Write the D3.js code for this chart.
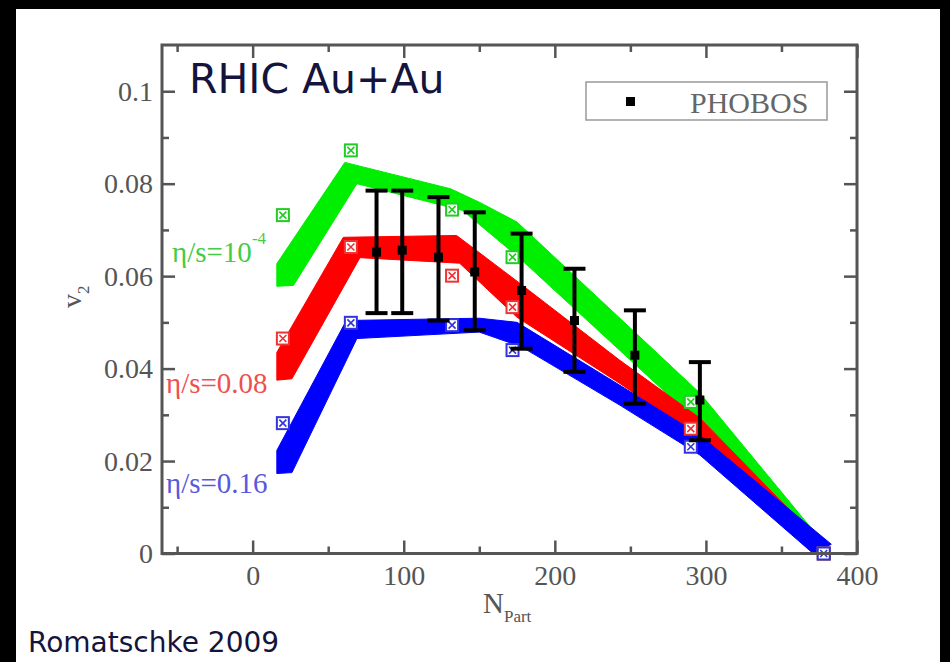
<!DOCTYPE html>
<html>
<head>
<meta charset="utf-8">
<script src="https://cdn.jsdelivr.net/npm/d3@7"></script>
<style>
  html, body { margin: 0; padding: 0; background: #000; }
  svg { display: block; }
</style>
</head>
<body>
<div id="chart"></div>
<script>
// chart size
const width = 950,
      height = 662;

// ---- data ----
// hydro bands: upper and lower edge as [Npart, v2]
const greenUpper = [[16, 0.0627], [61, 0.0846], [131, 0.0789], [150, 0.0760], [175, 0.0717], [296, 0.0347], [381, 0.001]];
const greenLower = [[16, 0.0578], [27, 0.0580], [69, 0.0800], [139, 0.0742], [177, 0.0638], [296, 0.0280], [378, 0.0]];
const redUpper   = [[16, 0.0435], [60, 0.0684], [135, 0.0688], [175, 0.0589], [243, 0.0418], [296, 0.0293], [381, 0.0008]];
const redLower   = [[16, 0.0375], [26, 0.0378], [71, 0.0640], [137, 0.0628], [175, 0.0511], [243, 0.0368], [296, 0.0250], [377, 0.0]];
const blueUpper  = [[16, 0.0223], [62, 0.0504], [150, 0.0509], [175, 0.0500], [243, 0.0364], [296, 0.0256], [383, 0.002]];
const blueLower  = [[16, 0.0173], [26, 0.0175], [69, 0.0465], [150, 0.0479], [178, 0.0447], [243, 0.0321], [296, 0.0213], [371, 0.0]];

// crossed-square markers on the bands
const markerN   = [20, 65, 132, 172, 290, 378];
const greenPts  = [0.0732, 0.0872, 0.0744, 0.0641, 0.0328, 0.0];
const redPts    = [0.0465, 0.0663, 0.0601, 0.0533, 0.0270, 0.0];
const bluePts   = [0.0282, 0.0499, 0.0494, 0.0440, 0.0231, 0.0];

// PHOBOS data with error bars
const phobosN  = [82, 99, 123, 147, 178, 213, 253, 296];
const phobosV  = [0.0652, 0.0656, 0.0641, 0.0609, 0.0569, 0.0504, 0.0429, 0.0332];
const phobosLo = [0.0520, 0.0520, 0.0504, 0.0483, 0.0443, 0.0393, 0.0324, 0.0245];
const phobosHi = [0.0785, 0.0785, 0.0771, 0.0738, 0.0692, 0.0616, 0.0526, 0.0414];

// ticks
const xMajor = [0, 100, 200, 300, 400];
const xMinor = [-50, 50, 150, 250, 350];
const yMajor = [0, 0.02, 0.04, 0.06, 0.08, 0.1];
const yMinor = [0.01, 0.03, 0.05, 0.07, 0.09];

// ---- layout ----
const pLeft = 162, pRight = 857, pTop = 45, pBottom = 553.5;
const serif = "'Liberation Serif', 'Times New Roman', serif";
const sans = "'DejaVu Sans', sans-serif";

const svg = d3.select("#chart").append("svg")
    .attr("width", width)
    .attr("height", height);

// white page on the black background
svg.append("rect")
    .attr("x", 16).attr("y", 9)
    .attr("width", 924).attr("height", height - 9)
    .style("fill", "#fff");

const x = d3.scaleLinear().domain([-60, 400]).range([pLeft, pRight]);
const y = d3.scaleLinear().domain([0, 0.11]).range([pBottom, pTop]);

// bands
const line = d3.line().x(d => x(d[0])).y(d => y(d[1]));
const bands = [
    {up: greenUpper, lo: greenLower, color: "#00ee00"},
    {up: redUpper,   lo: redLower,   color: "#ff0000"},
    {up: blueUpper,  lo: blueLower,  color: "#0000ff"}
];
bands.forEach(b => {
    svg.append("path")
        .attr("d", line(b.up.concat(b.lo.slice().reverse())) + "Z")
        .style("fill", b.color)
        .style("stroke", b.color)
        .style("stroke-width", 1);
});

// crossed squares
const markerSets = [
    {vals: greenPts, color: "#22cc22"},
    {vals: redPts,   color: "#ee3333"},
    {vals: bluePts,  color: "#3333dd"}
];
const ms = 6;
markerSets.forEach(m => {
    const g = svg.append("g");
    const pts = markerN.map((n, i) => [n, m.vals[i]]);
    g.selectAll("rect").data(pts).enter().append("rect")
        .attr("x", d => x(d[0]) - ms)
        .attr("y", d => y(d[1]) - ms)
        .attr("width", ms * 2)
        .attr("height", ms * 2)
        .style("fill", "#fff")
        .style("stroke", m.color)
        .style("stroke-width", 2);
    g.selectAll("path").data(pts).enter().append("path")
        .attr("d", d => {
            const cx = x(d[0]), cy = y(d[1]), r = ms - 2.5;
            return `M${cx - r},${cy - r}L${cx + r},${cy + r}M${cx - r},${cy + r}L${cx + r},${cy - r}`;
        })
        .style("stroke", m.color)
        .style("stroke-width", 1.6);
});

// PHOBOS error bars
const phobos = phobosN.map((n, i) => ({n: n, v: phobosV[i], lo: phobosLo[i], hi: phobosHi[i]}));
const eb = svg.append("g").style("stroke", "#000").style("stroke-width", 4);
eb.selectAll(".bar").data(phobos).enter().append("line")
    .attr("x1", d => x(d.n)).attr("x2", d => x(d.n))
    .attr("y1", d => y(d.lo)).attr("y2", d => y(d.hi));
eb.selectAll(".capHi").data(phobos).enter().append("line")
    .attr("x1", d => x(d.n) - 11).attr("x2", d => x(d.n) + 11)
    .attr("y1", d => y(d.hi)).attr("y2", d => y(d.hi));
eb.selectAll(".capLo").data(phobos).enter().append("line")
    .attr("x1", d => x(d.n) - 11).attr("x2", d => x(d.n) + 11)
    .attr("y1", d => y(d.lo)).attr("y2", d => y(d.lo));
svg.append("g").selectAll("rect").data(phobos).enter().append("rect")
    .attr("x", d => x(d.n) - 4.5)
    .attr("y", d => y(d.v) - 4.5)
    .attr("width", 9).attr("height", 9)
    .style("fill", "#000");

// ---- axes: ticks point inward on all four sides ----
function styleAxis(g) {
    g.select(".domain").remove();
    g.selectAll(".tick line").style("stroke", "#555").style("stroke-width", 2.5);
    g.selectAll(".tick text")
        .style("font-family", serif)
        .style("font-size", "28px")
        .style("fill", "#555");
}
svg.append("g").attr("transform", `translate(0,${pBottom})`)
    .call(d3.axisBottom(x).tickValues(xMajor).tickSizeInner(-13).tickSizeOuter(0).tickPadding(12).tickFormat(d => String(d)))
    .call(styleAxis);
svg.append("g").attr("transform", `translate(0,${pBottom})`)
    .call(d3.axisBottom(x).tickValues(xMinor).tickSizeInner(-7).tickSizeOuter(0).tickFormat(""))
    .call(styleAxis);
svg.append("g").attr("transform", `translate(0,${pTop})`)
    .call(d3.axisTop(x).tickValues(xMajor).tickSizeInner(-13).tickSizeOuter(0).tickFormat(""))
    .call(styleAxis);
svg.append("g").attr("transform", `translate(0,${pTop})`)
    .call(d3.axisTop(x).tickValues(xMinor).tickSizeInner(-7).tickSizeOuter(0).tickFormat(""))
    .call(styleAxis);
svg.append("g").attr("transform", `translate(${pLeft},0)`)
    .call(d3.axisLeft(y).tickValues(yMajor).tickSizeInner(-13).tickSizeOuter(0).tickPadding(9).tickFormat(d => String(d)))
    .call(styleAxis);
svg.append("g").attr("transform", `translate(${pLeft},0)`)
    .call(d3.axisLeft(y).tickValues(yMinor).tickSizeInner(-7).tickSizeOuter(0).tickFormat(""))
    .call(styleAxis);
svg.append("g").attr("transform", `translate(${pRight},0)`)
    .call(d3.axisRight(y).tickValues(yMajor).tickSizeInner(-13).tickSizeOuter(0).tickFormat(""))
    .call(styleAxis);
svg.append("g").attr("transform", `translate(${pRight},0)`)
    .call(d3.axisRight(y).tickValues(yMinor).tickSizeInner(-7).tickSizeOuter(0).tickFormat(""))
    .call(styleAxis);

// frame
svg.append("rect")
    .attr("x", pLeft).attr("y", pTop)
    .attr("width", pRight - pLeft).attr("height", pBottom - pTop)
    .style("fill", "none")
    .style("stroke", "#555")
    .style("stroke-width", 3);

// axis titles
const yl = svg.append("text")
    .attr("transform", "translate(81,308) rotate(-90)")
    .style("font-family", serif)
    .style("font-size", "28px")
    .style("fill", "#555");
yl.append("tspan").text("v");
yl.append("tspan").attr("dy", 8).style("font-size", "17px").text("2");

const xl = svg.append("text")
    .attr("x", 483).attr("y", 613)
    .style("font-family", serif)
    .style("font-size", "29px")
    .style("fill", "#555");
xl.append("tspan").text("N");
xl.append("tspan").attr("dy", 9).style("font-size", "17px").text("Part");

// band labels
const lab = svg.append("g").style("font-family", serif).style("font-size", "29px");
const g1 = lab.append("text").attr("x", 172).attr("y", 262).style("fill", "#44cc44");
g1.append("tspan").text("η/s=10");
g1.append("tspan").attr("dy", -18).style("font-size", "17px").text("-4");
lab.append("text").attr("x", 166).attr("y", 393).style("fill", "#ee5050").text("η/s=0.08");
lab.append("text").attr("x", 166).attr("y", 493).style("fill", "#5858dd").text("η/s=0.16");

// legend
svg.append("rect")
    .attr("x", 586).attr("y", 82)
    .attr("width", 241).attr("height", 38)
    .style("fill", "#fff")
    .style("stroke", "#999")
    .style("stroke-width", 1.5);
svg.append("rect")
    .attr("x", 626).attr("y", 97)
    .attr("width", 9).attr("height", 9)
    .style("fill", "#000");
svg.append("text")
    .attr("x", 690).attr("y", 113)
    .style("font-family", serif)
    .style("font-size", "30px")
    .style("fill", "#666")
    .text("PHOBOS");

// title and citation
svg.append("text")
    .attr("x", 189).attr("y", 93)
    .style("font-family", sans)
    .style("font-size", "41px")
    .style("fill", "#14143c")
    .text("RHIC Au+Au");
svg.append("text")
    .attr("x", 28).attr("y", 652)
    .style("font-family", sans)
    .style("font-size", "28px")
    .style("fill", "#14143c")
    .text("Romatschke 2009");
</script>
</body>
</html>
